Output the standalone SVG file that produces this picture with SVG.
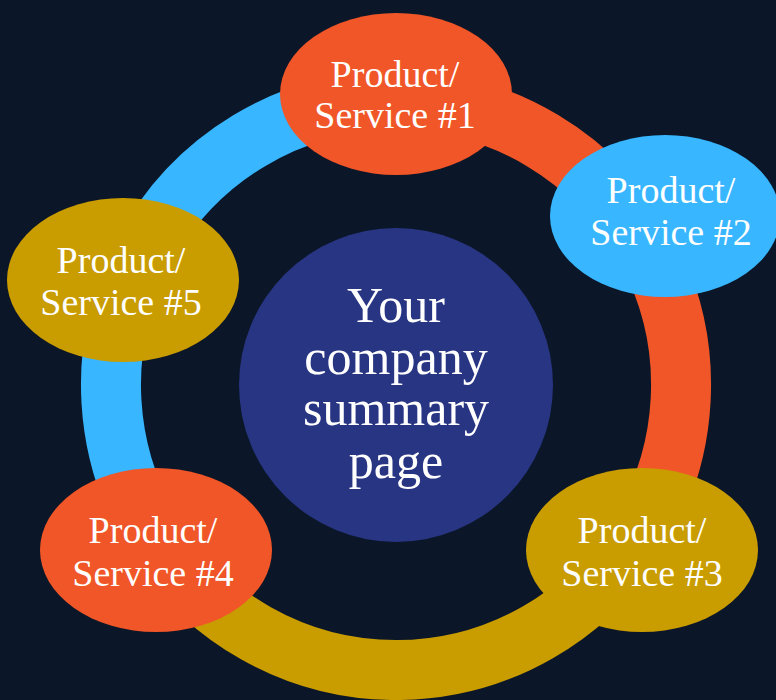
<svg xmlns="http://www.w3.org/2000/svg" width="776" height="700" viewBox="0 0 776 700">
<style>
.ring{fill:none;stroke-width:60;stroke-linecap:butt}
.lbl{font-family:"Liberation Serif","DejaVu Serif",serif;fill:#ffffff;text-anchor:middle}
.nd{font-size:38px}
.ctr{font-size:50px}
</style>
<rect width="776" height="700" fill="#0b1628"/>
<g id="connectors">
<path class="ring" stroke="#f05627" d="M396,100 A285,285 0 0 1 632.3,544.4"/>
<path class="ring" stroke="#c99c00" d="M632.3,544.4 A285,285 0 0 1 161.1,546.4"/>
<path class="ring" stroke="#38b6ff" d="M161.1,546.4 A285,285 0 0 1 396,100"/>
</g>
<g id="center">
<circle cx="396" cy="385" r="157" fill="#283583"/>
<text class="lbl ctr" x="396" y="322">Your</text>
<text class="lbl ctr" x="396" y="374">company</text>
<text class="lbl ctr" x="396" y="425">summary</text>
<text class="lbl ctr" x="396" y="478">page</text>
</g>
<g id="node1">
<ellipse cx="396" cy="94" rx="116" ry="81" fill="#f05627"/>
<text class="lbl nd" x="395" y="87">Product/</text>
<text class="lbl nd" x="395" y="128">Service #1</text>
</g>
<g id="node2">
<ellipse cx="665" cy="216" rx="115" ry="81" fill="#38b6ff"/>
<text class="lbl nd" x="671" y="203">Product/</text>
<text class="lbl nd" x="671" y="245">Service #2</text>
</g>
<g id="node3">
<ellipse cx="642" cy="550" rx="116" ry="82" fill="#c99c00"/>
<text class="lbl nd" x="642" y="543">Product/</text>
<text class="lbl nd" x="642" y="586">Service #3</text>
</g>
<g id="node4">
<ellipse cx="156" cy="550" rx="116" ry="82" fill="#f05627"/>
<text class="lbl nd" x="153" y="543">Product/</text>
<text class="lbl nd" x="153" y="586">Service #4</text>
</g>
<g id="node5">
<ellipse cx="123" cy="280" rx="116" ry="82" fill="#c99c00"/>
<text class="lbl nd" x="121" y="273">Product/</text>
<text class="lbl nd" x="121" y="315">Service #5</text>
</g>
</svg>
